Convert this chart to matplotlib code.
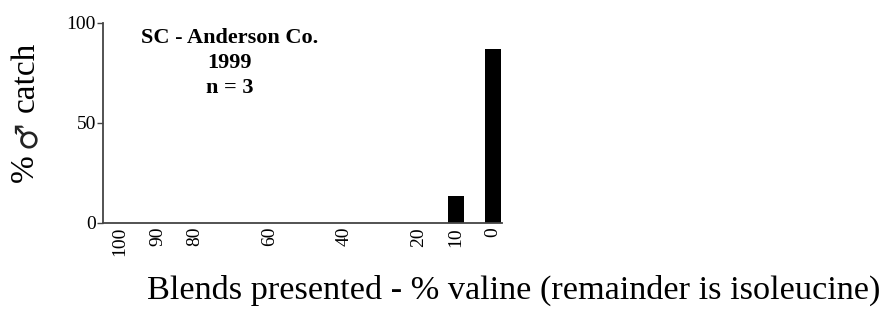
import matplotlib.pyplot as plt

blends = [100, 90, 80, 60, 40, 20, 10, 0]
catch = [0, 0, 0, 0, 0, 0, 13.3, 86.7]
yticks = [0, 50, 100]
title_lines = ['SC - Anderson Co.', '1999', 'n = 3']

serif = ['Liberation Serif', 'DejaVu Serif']
plt.rcParams['font.family'] = serif

fig = plt.figure(figsize=(8.91, 3.09), dpi=100)
ax = fig.add_axes([0.1156, 0.279, 0.4478, 0.6475])

ax.bar(blends, catch, width=4.3, color='black')
ax.set_xlim(104.6, -2.4)
ax.set_ylim(0, 100)

ax.spines['top'].set_visible(False)
ax.spines['right'].set_visible(False)
for s in ['left', 'bottom']:
    ax.spines[s].set_color('#444444')
    ax.spines[s].set_linewidth(1.3)

ax.set_yticks(yticks)
ax.set_yticklabels([str(v) for v in yticks], fontsize=14)
ax.tick_params(axis='y', length=4, width=1, color='#444444', pad=1)
ax.set_xticks(blends)
ax.set_xticklabels([str(v) for v in blends], rotation=90, fontsize=14)
ax.tick_params(axis='x', length=0, pad=3)

ys = [0.925, 0.80, 0.675]
for line, y in zip(title_lines, ys):
    ax.text(0.318, y, line, transform=ax.transAxes, ha='center', va='center',
            fontsize=16, fontweight='bold')

# y label in three pieces so the male sign can be drawn larger
fig.text(0.028, 0.456, '%', rotation=90, ha='center', va='center', fontsize=24)
fig.text(0.030, 0.566, '\u2642', rotation=90, ha='center', va='center',
         fontsize=22, family='DejaVu Sans', color='#222222')
fig.text(0.029, 0.75, 'catch', rotation=90, ha='center', va='center', fontsize=24)

fig.text(0.577, 0.06, 'Blends presented - % valine (remainder is isoleucine)',
         ha='center', va='center', fontsize=24.7)

fig.savefig('out.png', dpi=100)
